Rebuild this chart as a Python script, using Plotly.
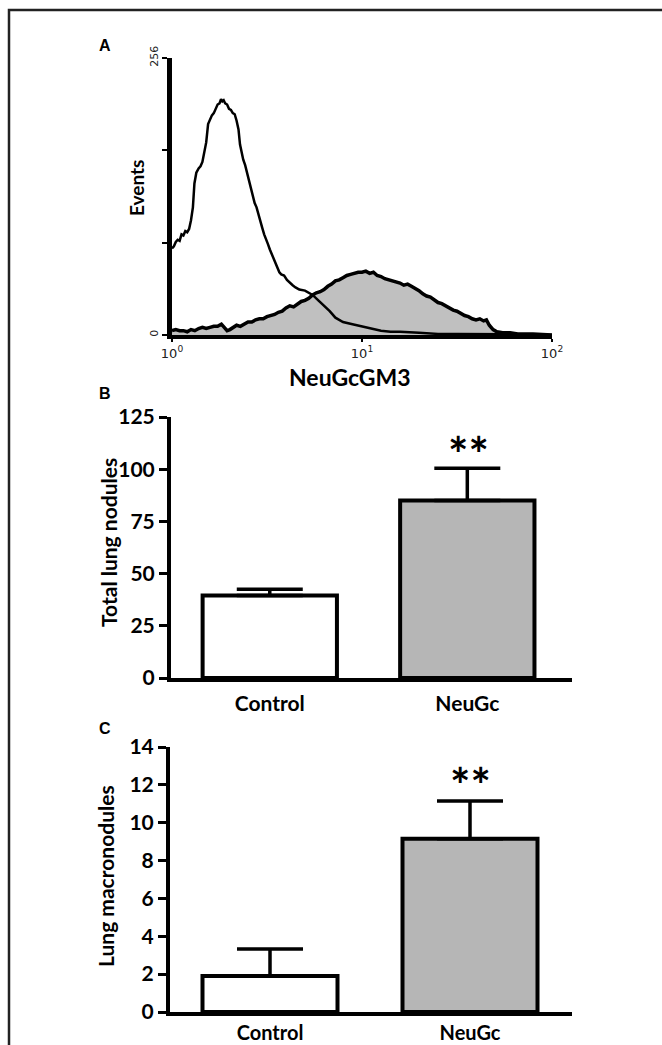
import plotly.graph_objects as go

W, H = 662, 1045

# ---------- Panel A data (flow cytometry histograms, x in log decades) ----------
ctrl_x = [0.000, 0.010, 0.020, 0.030, 0.040, 0.050, 0.060, 0.070, 0.080, 0.090,
          0.100, 0.110, 0.118, 0.128, 0.140, 0.150, 0.160, 0.170, 0.180, 0.190,
          0.200, 0.210, 0.220, 0.230, 0.240, 0.250, 0.258, 0.265, 0.272, 0.280,
          0.290, 0.300, 0.310, 0.320, 0.330, 0.340, 0.350, 0.358, 0.366, 0.375,
          0.385, 0.395, 0.405, 0.415, 0.425, 0.435, 0.445, 0.455, 0.465, 0.475,
          0.485, 0.495, 0.505, 0.515, 0.525, 0.535, 0.545, 0.555, 0.565, 0.575,
          0.590, 0.605, 0.620, 0.635, 0.650, 0.670, 0.700, 0.720, 0.740, 0.770,
          0.800, 0.830, 0.860, 0.900, 0.950, 1.000, 1.050, 1.100, 1.150, 1.200,
          1.300, 1.400, 1.500, 1.600, 1.700, 1.800, 1.900, 2.000]
ctrl_y = [80, 82, 86, 88, 87, 93, 92, 96, 95, 98,
          106, 118, 140, 150, 154, 156, 160, 168, 178, 195,
          200, 203, 205, 210, 213, 214, 218, 216, 217, 214,
          213, 209, 208, 205, 204, 198, 190, 176, 168, 162,
          157, 150, 145, 136, 131, 122, 118, 111, 104, 99,
          93, 89, 84, 79, 75, 70, 66, 63, 58, 56,
          55, 51, 48, 46, 44, 42, 41, 39, 37, 32,
          27, 22, 16, 12, 10, 8, 6, 4, 3, 3,
          2, 1, 1, 1, 1, 0.5, 0.5, 0]

neu_x = [0.000, 0.020, 0.040, 0.060, 0.080, 0.100, 0.120, 0.140, 0.160, 0.180,
         0.200, 0.220, 0.240, 0.260, 0.275, 0.290, 0.305, 0.320, 0.340, 0.360,
         0.380, 0.400, 0.420, 0.440, 0.460, 0.480, 0.500, 0.520, 0.540, 0.560,
         0.580, 0.600, 0.620, 0.640, 0.660, 0.680, 0.700, 0.720, 0.740, 0.760,
         0.780, 0.800, 0.820, 0.840, 0.860, 0.880, 0.900, 0.920, 0.940, 0.960,
         0.980, 1.000, 1.020, 1.040, 1.060, 1.080, 1.100, 1.120, 1.140, 1.160,
         1.180, 1.200, 1.220, 1.240, 1.260, 1.280, 1.300, 1.320, 1.340, 1.360,
         1.380, 1.400, 1.420, 1.440, 1.460, 1.480, 1.500, 1.520, 1.540, 1.560,
         1.580, 1.600, 1.620, 1.640, 1.655, 1.670, 1.690, 1.710, 1.740, 1.780,
         1.820, 1.900, 2.000]
neu_y = [4, 5, 4, 4, 3, 5, 4, 6, 7, 6,
         7, 8, 8, 10, 7, 4, 5, 7, 9, 8,
         10, 12, 12, 14, 15, 15, 17, 18, 19, 21,
         22, 25, 27, 26, 29, 31, 32, 34, 37, 39,
         40, 42, 45, 47, 50, 51, 53, 55, 56, 57,
         58, 58, 59, 57, 58, 55, 54, 52, 51, 50,
         49, 48, 46, 47, 45, 43, 41, 38, 36, 35,
         32, 30, 29, 27, 25, 23, 22, 20, 18, 17,
         15, 14, 15, 13, 14, 9, 5, 3, 2, 2,
         1, 1, 0]

a_xtick_vals = [0, 1, 2]
a_xtick_text = ["10<sup>0</sup>", "10<sup>1</sup>", "10<sup>2</sup>"]
a_ytick_vals = [0, 256]
a_ytick_text = ["0", "256"]
a_ytick_minor = [256 / 3, 512 / 3]

# ---------- Panel B / C data ----------
groups = ["Control", "NeuGc"]
total_nodules = [39.5, 85]
total_err = [3, 15.5]
macro_nodules = [1.9, 9.15]
macro_err = [1.43, 2.0]
b_ticks = [0, 25, 50, 75, 100, 125]
c_ticks = [0, 2, 4, 6, 8, 10, 12, 14]
bar_colors = ["white", "rgb(182,182,182)"]

FONT = "Lato"


def fx(px):
    return px / W


def fy(py):
    return 1 - py / H


fig = go.Figure()

# Panel A
fig.add_trace(go.Scatter(x=neu_x, y=neu_y, mode="lines", fill="tozeroy",
                         fillcolor="rgb(192,192,192)",
                         line=dict(color="black", width=3.5),
                         xaxis="x", yaxis="y", showlegend=False))
fig.add_trace(go.Scatter(x=ctrl_x, y=ctrl_y, mode="lines",
                         line=dict(color="black", width=2.5),
                         xaxis="x", yaxis="y", showlegend=False))

# Panel B
fig.add_trace(go.Bar(x=groups, y=total_nodules, width=0.68,
                     marker=dict(color=bar_colors, line=dict(color="black", width=4)),
                     error_y=dict(type="data", symmetric=False, array=total_err,
                                  arrayminus=[0, 0], thickness=3.5, width=33, color="black"),
                     xaxis="x2", yaxis="y2", showlegend=False))

# Panel C
fig.add_trace(go.Bar(x=groups, y=macro_nodules, width=0.675,
                     marker=dict(color=bar_colors, line=dict(color="black", width=4)),
                     error_y=dict(type="data", symmetric=False, array=macro_err,
                                  arrayminus=[0, 0], thickness=3.5, width=33, color="black"),
                     xaxis="x3", yaxis="y3", showlegend=False))

bold_tick = dict(family=FONT, size=21, color="black", weight="bold")
common = dict(automargin=False, showgrid=False, zeroline=False,
              showline=True, linecolor="black")

fig.update_layout(
    template="none",
    width=W, height=H,
    margin=dict(l=0, r=0, t=0, b=0, pad=0, autoexpand=False),
    paper_bgcolor="white", plot_bgcolor="rgba(0,0,0,0)",
    xaxis=dict(domain=[fx(172), fx(552)], range=[0, 2], anchor="y", linewidth=4,
               ticks="outside", ticklen=3, tickwidth=2, tickcolor="black",
               tickvals=a_xtick_vals, ticktext=a_xtick_text,
               tickfont=dict(family="DejaVu Sans", size=13, color="#222"), **common),
    yaxis=dict(domain=[fy(335), fy(58)], range=[0, 256], anchor="x", linewidth=5,
               ticks="outside", ticklen=5, tickwidth=2, tickcolor="black",
               tickvals=a_ytick_vals, ticktext=a_ytick_text, tickangle=-90,
               minor=dict(tickvals=a_ytick_minor, ticks="outside", ticklen=5,
                          tickwidth=2, tickcolor="black", showgrid=False),
               tickfont=dict(family="DejaVu Sans", size=11, color="#222"), **common),
    xaxis2=dict(domain=[fx(171), fx(572)], range=[-0.5, 1.53], anchor="y2",
                type="category", linewidth=4,
                ticks="outside", ticklen=4, tickcolor="rgba(0,0,0,0)",
                tickfont=bold_tick, **common),
    yaxis2=dict(domain=[fy(678), fy(417)], range=[0, 125], anchor="x2", linewidth=4,
                ticks="outside", ticklen=8, tickwidth=3, tickcolor="black",
                tickvals=b_ticks, tickfont=bold_tick, **common),
    xaxis3=dict(domain=[fx(170), fx(572)], range=[-0.5, 1.51], anchor="y3",
                type="category", linewidth=4, ticks="",
                tickfont=dict(family=FONT, size=20, color="black", weight="bold"), **common),
    yaxis3=dict(domain=[fy(1012), fy(747)], range=[0, 14], anchor="x3", linewidth=4,
                ticks="outside", ticklen=8, tickwidth=3, tickcolor="black",
                tickvals=c_ticks, tickfont=bold_tick, **common),
    shapes=[dict(type="rect", xref="paper", yref="paper",
                 x0=fx(9), x1=1.05, y0=-0.05, y1=fy(10),
                 line=dict(color="#222", width=2.5), fillcolor="rgba(0,0,0,0)")],
)

ann = []


def label(text, x, y, size, family=FONT, angle=0, weight="bold"):
    ann.append(dict(text=text, x=fx(x), y=fy(y), xref="paper", yref="paper",
                    showarrow=False, textangle=angle, xanchor="center", yanchor="middle",
                    font=dict(family=family, size=size, color="black", weight=weight)))


label("A", 105, 45, 16, family="Liberation Sans")
label("B", 105, 393, 16, family="Liberation Sans")
label("C", 105, 728, 16, family="Liberation Sans")
label("Events", 137, 188, 19, angle=-90)
label("NeuGcGM3", 350, 377, 23)
label("Total lung nodules", 108, 543, 21, angle=-90)
label("Lung macronodules", 105, 876, 21, angle=-90)
label("**", 468, 453, 48)
label("**", 470, 784, 48)

fig.update_layout(annotations=ann)
fig.write_html("out.html", config={"displayModeBar": False},
               post_script="document.body.style.margin='0';document.body.style.overflow='hidden';")
